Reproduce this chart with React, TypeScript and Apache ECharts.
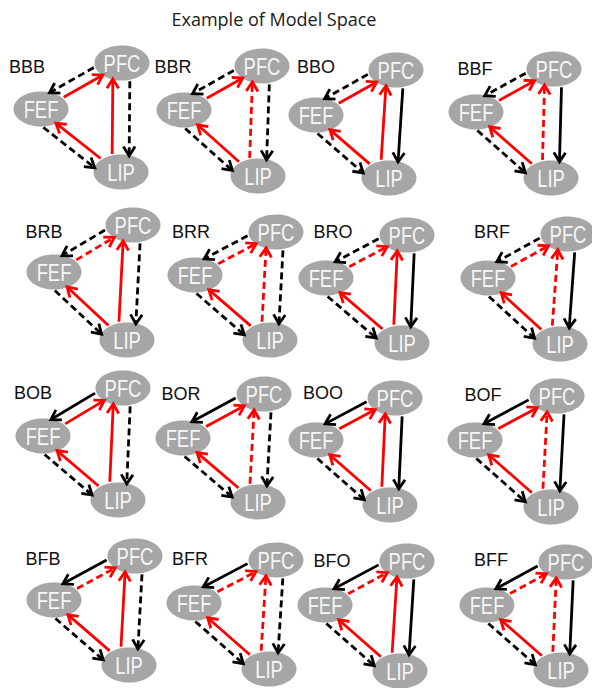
import React, { useEffect, useRef } from "react";
import * as echarts from "echarts";

// ---- data ----
const titleText = "Example of Model Space";
const models = ["BBB", "BBR", "BBO", "BBF", "BRB", "BRR", "BRO", "BRF", "BOB", "BOR", "BOO", "BOF", "BFB", "BFR", "BFO", "BFF"];
const labelPos = [
  [27, 67], [173, 67], [316, 67], [475, 69],
  [44, 232], [191, 232], [333, 232], [492, 232],
  [33, 393], [181, 394], [323, 393], [483, 395],
  [43, 559], [190, 559], [332, 561], [491, 560],
];
const pfcPos = [
  [122, 63], [262, 66], [396, 70], [554, 69],
  [133, 225], [276, 232], [407, 235], [568, 234],
  [123, 388], [264, 394], [395, 398], [557, 396],
  [135, 556], [276, 560], [407, 561], [566, 562],
];
const fefPos = [
  [41, 109], [184, 110], [316, 115], [476, 112],
  [54, 272], [195, 275], [326, 278], [488, 278],
  [43, 436], [183, 438], [316, 440], [475, 440],
  [54, 600], [194, 603], [325, 605], [487, 605],
];
const lipPos = [
  [121, 172], [258, 176], [389, 178], [551, 178],
  [127, 340], [270, 340], [402, 343], [560, 344],
  [118, 500], [258, 502], [390, 505], [551, 507],
  [129, 665], [269, 669], [400, 671], [561, 670],
];
const nodeNames = ["PFC", "FEF", "LIP"];
// code letter -> is the red (bottom-up) connection solid / is the black (top-down) connection solid
const redSolid: Record<string, boolean> = { B: true, R: false, O: true, F: false };
const blackSolid: Record<string, boolean> = { B: false, R: false, O: true, F: true };

export default function App() {
  const ref = useRef<HTMLDivElement>(null);
  useEffect(() => {
    const chart = echarts.init(ref.current!, null, { renderer: "svg" });

    const RX = 27.5, RY = 17.5;
    const LW = 2.8;
    const DASH = [7, 4];

    const ellipseT = (p: number[], d: number[], c: number[], rx: number, ry: number) => {
      const px = (p[0] - c[0]) / rx, py = (p[1] - c[1]) / ry;
      const dx = d[0] / rx, dy = d[1] / ry;
      const a = dx * dx + dy * dy;
      const b = 2 * (px * dx + py * dy);
      const cc = px * px + py * py - 1;
      const disc = b * b - 4 * a * cc;
      if (disc < 0) return null;
      const s = Math.sqrt(disc);
      return [(-b - s) / (2 * a), (-b + s) / (2 * a)];
    };

    const renderItem = (params: any, api: any) => {
      const idx = api.value(0) as number;
      const code = models[idx];
      const P = api.coord(pfcPos[idx]);
      const F = api.coord(fefPos[idx]);
      const L = api.coord(lipPos[idx]);
      const sz = api.size([RX, RY]);
      const rx = sz[0], ry = sz[1];
      const centers: Record<string, number[]> = { PFC: P, FEF: F, LIP: L };
      const children: any[] = [];

      nodeNames.forEach((n) => {
        const c = centers[n];
        children.push({
          type: "ellipse",
          shape: { cx: c[0], cy: c[1], rx, ry },
          style: { fill: "#a6a6a6" },
        });
      });
      nodeNames.forEach((n) => {
        const c = centers[n];
        children.push({
          type: "text",
          x: c[0],
          y: c[1] + 1,
          scaleX: 0.8,
          style: {
            text: n,
            fill: "#f7f7f7",
            fontSize: 23,
            fontFamily: "'Liberation Sans', Arial, sans-serif",
            align: "center",
            verticalAlign: "middle",
            textAlign: "center",
            textVerticalAlign: "middle",
          },
        });
      });

      const edge = (a: string, b: string, from: string, off: number, color: string, solid: boolean) => {
        const A = centers[a], B = centers[b];
        const len = Math.hypot(B[0] - A[0], B[1] - A[1]);
        const u = [(B[0] - A[0]) / len, (B[1] - A[1]) / len];
        const nrm = [-u[1], u[0]];
        let S = [A[0] + off * nrm[0], A[1] + off * nrm[1]];
        let T = [B[0] + off * nrm[0], B[1] + off * nrm[1]];
        let cS = A, cT = B;
        if (from !== a) {
          [S, T] = [T, S];
          [cS, cT] = [cT, cS];
        }
        const d = [T[0] - S[0], T[1] - S[1]];
        const dl = Math.hypot(d[0], d[1]);
        const ud = [d[0] / dl, d[1] / dl];
        const r1 = ellipseT(S, d, cS, rx, ry);
        const r2 = ellipseT(S, d, cT, rx, ry);
        const t0 = r1 ? r1[1] + 1.5 / dl : 0.2;
        const t1 = r2 ? r2[0] + 0.5 / dl : 0.8;
        const st = [S[0] + d[0] * t0, S[1] + d[1] * t0];
        const tip = [S[0] + d[0] * t1, S[1] + d[1] * t1];
        const lineEnd = [tip[0] - ud[0] * 1.5, tip[1] - ud[1] * 1.5];
        children.push({
          type: "line",
          shape: { x1: st[0], y1: st[1], x2: lineEnd[0], y2: lineEnd[1] },
          style: { stroke: color, lineWidth: LW, lineDash: solid ? null : DASH, lineCap: "butt" },
        });
        const ah = 11, ang = (32 * Math.PI) / 180;
        const rot = (v: number[], t: number) => [v[0] * Math.cos(t) - v[1] * Math.sin(t), v[0] * Math.sin(t) + v[1] * Math.cos(t)];
        const w1 = rot(ud, ang), w2 = rot(ud, -ang);
        children.push({
          type: "polyline",
          shape: {
            points: [
              [tip[0] - w1[0] * ah, tip[1] - w1[1] * ah],
              tip,
              [tip[0] - w2[0] * ah, tip[1] - w2[1] * ah],
            ],
          },
          style: { stroke: color, lineWidth: LW, fill: null, lineJoin: "miter" },
        });
      };

      const l0 = code[0], l1 = code[1], l2 = code[2];
      edge("FEF", "LIP", "LIP", 2, "#ff0000", redSolid[l0]);
      edge("FEF", "LIP", "FEF", 13, "#000000", blackSolid[l0]);
      edge("FEF", "PFC", "FEF", 1, "#ff0000", redSolid[l1]);
      edge("FEF", "PFC", "PFC", -10, "#000000", blackSolid[l1]);
      edge("PFC", "LIP", "LIP", 9, "#ff0000", redSolid[l2]);
      edge("PFC", "LIP", "PFC", -8, "#000000", blackSolid[l2]);

      const lp = api.coord(labelPos[idx]);
      children.push({
        type: "text",
        x: lp[0],
        y: lp[1],
        style: {
          text: code,
          fill: "#111111",
          fontSize: 18,
          fontFamily: "'Liberation Sans', Arial, sans-serif",
          align: "center",
          verticalAlign: "middle",
          textAlign: "center",
          textVerticalAlign: "middle",
        },
      });

      return { type: "group", children };
    };

    chart.setOption({
      animation: false,
      backgroundColor: "#ffffff",
      title: {
        text: titleText,
        left: 269,
        textAlign: "center",
        top: 5,
        textStyle: { fontSize: 18, fontWeight: "normal", color: "#1a1a1a", fontFamily: "'Open Sans', sans-serif" },
      },
      grid: { left: 0, right: 0, top: 0, bottom: 0 },
      xAxis: { type: "value", min: 0, max: 592, show: false },
      yAxis: { type: "value", min: 0, max: 688, inverse: true, show: false },
      series: [
        {
          type: "custom",
          coordinateSystem: "cartesian2d",
          renderItem,
          clip: false,
          data: models.map((_, i) => [i]),
          encode: { x: 0, y: 0 },
        },
      ],
    });
    return () => chart.dispose();
  }, []);
  return (
    <div
      ref={ref}
      style={{ position: "fixed", left: 0, top: 0, width: 592, height: 688, background: "#fff" }}
    />
  );
}
